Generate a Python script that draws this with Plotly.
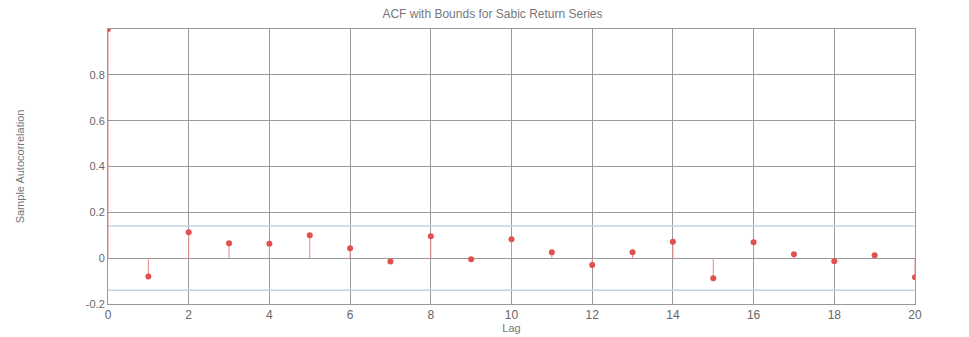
import plotly.graph_objects as go

lags = list(range(0, 21))
acf = [1.0, -0.08, 0.113, 0.065, 0.063, 0.10, 0.043, -0.015, 0.096, -0.005,
       0.083, 0.026, -0.03, 0.026, 0.072, -0.088, 0.07, 0.017, -0.013, 0.013, -0.083]
upper_bound = 0.14
lower_bound = -0.14
title_text = "ACF with Bounds for Sabic Return Series"
x_ticks = [0, 2, 4, 6, 8, 10, 12, 14, 16, 18, 20]
y_ticks = [-0.2, 0, 0.2, 0.4, 0.6, 0.8]
y_tick_labels = ["-0.2", "0", "0.2", "0.4", "0.6", "0.8"]

stem_x, stem_y = [], []
for l, v in zip(lags, acf):
    stem_x += [l, l, None]
    stem_y += [0, v, None]

fig = go.Figure()
fig.add_trace(go.Scatter(x=[0, 20], y=[upper_bound, upper_bound], mode="lines",
                         line=dict(color="#c9d3e6", width=1.5), hoverinfo="skip"))
fig.add_trace(go.Scatter(x=[0, 20], y=[lower_bound, lower_bound], mode="lines",
                         line=dict(color="#c9d3e6", width=1.5), hoverinfo="skip"))
fig.add_trace(go.Scatter(x=stem_x, y=stem_y, mode="lines",
                         line=dict(color="#e88a8a", width=1), hoverinfo="skip"))
fig.add_trace(go.Scatter(x=lags, y=acf, mode="markers",
                         marker=dict(color="#e0504f", size=6)))

fig.update_layout(
    width=969, height=337,
    margin=dict(l=100, r=62, t=21, b=41),
    paper_bgcolor="white", plot_bgcolor="white",
    showlegend=False,
    font=dict(family="Liberation Sans, Arial, sans-serif", size=11, color="#666"),
    title=dict(text=title_text, x=0.5, xanchor="center", y=0.995, yanchor="top",
               font=dict(size=12, color="#777")),
)
fig.update_xaxes(range=[0, 20], tickvals=x_ticks, showgrid=True, gridcolor="#9a9a9a",
                 gridwidth=1, zeroline=False, showline=True, linecolor="#999",
                 mirror=True, ticks="inside", ticklen=4, tickcolor="#999",
                 tickfont=dict(size=12),
                 title=dict(text="Lag", standoff=0, font=dict(size=11, color="#777")))
fig.update_yaxes(range=[-0.2, 1.0], tickvals=y_ticks, ticktext=y_tick_labels,
                 showgrid=True, gridcolor="#9a9a9a", gridwidth=1,
                 zeroline=True, zerolinecolor="#9a9a9a", zerolinewidth=1,
                 showline=True, linecolor="#999", mirror=True,
                 ticks="inside", ticklen=4, tickcolor="#999",
                 tickfont=dict(size=11),
                 title=dict(text="Sample Autocorrelation", standoff=58,
                            font=dict(size=11, color="#777")))
fig.write_html("out.html")
